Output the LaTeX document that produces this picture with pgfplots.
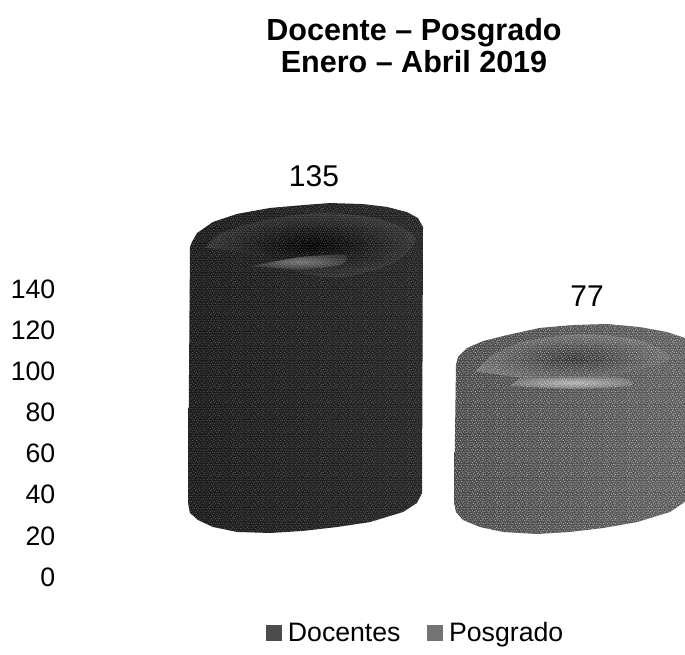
\documentclass[border=0pt]{standalone}
\usepackage{fontspec}
\setmainfont{Liberation Sans}
\usepackage{pgfplots}
\usetikzlibrary{patterns}
\pgfplotsset{compat=1.18}
\pgfdeclarepatternformonly{grain}{\pgfqpoint{-0.1pt}{-0.1pt}}{\pgfqpoint{11.1pt}{11.1pt}}{\pgfqpoint{11pt}{11pt}}{%
  \foreach \a/\b in {0.3/0.5,1.9/0.2,3.4/1.1,4.7/0.4,6.3/1.3,8.1/0.6,9.6/1.0,0.9/2.1,2.6/2.6,4.3/2.0,5.6/2.9,7.4/2.3,9.0/2.8,10.2/2.2,0.2/3.9,1.7/4.4,3.3/3.8,5.0/4.5,6.6/4.0,8.2/4.6,9.8/3.9,1.0/5.9,2.7/6.3,4.1/5.7,5.8/6.2,7.5/5.8,9.1/6.4,10.3/5.6,0.3/7.6,1.9/8.0,3.5/7.5,4.9/8.1,6.5/7.6,8.3/8.0,9.7/7.7,1.1/9.6,2.6/9.9,4.2/9.4,5.7/10.0,7.3/9.5,8.9/9.9,10.2/9.4}{%
    \pgfpathrectangle{\pgfqpoint{\a pt}{\b pt}}{\pgfqpoint{0.75pt}{0.75pt}}}%
  \pgfusepath{fill}}
\pgfplotstableread{
x y
190 160.4
192 162.9
197 167.2
213 172.6
237 176.5
270 179.4
303 180.8
330 181.8
363 181.3
387 179.9
407 177.4
418 174.5
423 170.1
422 40.8
417 36.0
403 31.6
370 26.7
337 24.3
303 22.4
270 21.4
237 21.9
213 24.3
198 27.7
190 31.1
188 36.0
}\cylA
\pgfplotstableread{
x y
456 103.1
458 107.0
467 111.3
483 114.7
507 117.6
540 121.1
573 122.5
607 123.0
640 121.5
667 119.1
685 116.2
685 36.5
670 31.6
637 26.7
603 23.8
570 21.9
537 20.9
503 21.9
480 24.3
463 27.7
456 31.6
454 36.0
}\cylB
\begin{document}
\begin{tikzpicture}
\begin{axis}[
  scale only axis, width=468.75pt, height=490.5pt,
  xmin=60, xmax=685, ymin=-37.43, ymax=280.5,
  axis line style={draw=none},
  major tick length=0pt,
  xtick=\empty,
  ytick={0,20,40,60,80,100,120,140},
  tick label style={font=\fontsize{20}{24}\selectfont},
  yticklabel style={/pgf/number format/assume math mode=true},
  legend style={at={(axis cs:416,-27.2)},anchor=center,draw=none,fill=none,
    font=\fontsize{20}{24}\selectfont,legend columns=2,
    /tikz/every even column/.append style={column sep=18pt},
    legend cell align=left, inner sep=0pt},
]
\addplot[ybar,bar width=10pt,draw=none,fill=none,forget plot,
  nodes near coords,
  every node near coord/.append style={anchor=center,yshift=92pt,text=black,font=\fontsize{22.5}{26}\selectfont,
    /pgf/number format/assume math mode=true}]
  coordinates {(314,135) (587,77)};
% Docentes
\addplot[draw=none,forget plot,shading=axis,left color=black!90,middle color=black!75,right color=black!86,shading angle=90] table {\cylA} -- cycle;
% Posgrado
\addplot[draw=none,forget plot,shading=axis,left color=black!72,middle color=black!54,right color=black!64,shading angle=90] table {\cylB} -- cycle;
% lid shade and rim highlight, Docentes
\addplot[draw=none,smooth,forget plot,shading=radial,inner color=black,outer color=black!80]
  coordinates {(205,160)(250,157)(300,148)(345,146)(395,153)(415,165)(380,174)(320,177)(260,173)(220,167)} -- cycle;
\addplot[draw=none,smooth,forget plot,shading=radial,inner color=black!55,outer color=black!80]
  coordinates {(250,151)(300,155.5)(345,156.5)(340,151.5)(300,149.5)} -- cycle;
% lid shade and rim highlight, Posgrado
\addplot[draw=none,smooth,forget plot,shading=radial,inner color=black!80,outer color=black!57]
  coordinates {(475,100)(520,97)(570,95)(620,99)(670,106)(640,115)(580,118)(520,114)(490,107)} -- cycle;
\addplot[draw=none,smooth,forget plot,shading=radial,inner color=black!30,outer color=black!57]
  coordinates {(510,93)(570,91.5)(630,93)(620,97)(560,97)(520,96.5)} -- cycle;
% grain
\addplot[draw=none,forget plot,pattern=grain,pattern color=white,opacity=0.25] table {\cylA} -- cycle;
\addplot[draw=none,forget plot,pattern=grain,pattern color=white,opacity=0.5] table {\cylB} -- cycle;
% legend
\addlegendimage{legend image code/.code={\fill[black!70] (0pt,-5.5pt) rectangle (11pt,5.5pt);}}
\addlegendentry{\hspace{3pt}Docentes}
\addlegendimage{legend image code/.code={\fill[black!55] (0pt,-5.5pt) rectangle (11pt,5.5pt);}}
\addlegendentry{\hspace{3pt}Posgrado}
\node[align=center,font=\fontsize{22.9}{24}\selectfont\bfseries] at (axis cs:414,258.1)
  {Docente – Posgrado\\Enero – Abril 2019};
\end{axis}
\pgfresetboundingbox
\useasboundingbox (-45pt,0pt) rectangle (468.75pt,490.5pt);
\end{tikzpicture}
\end{document}
